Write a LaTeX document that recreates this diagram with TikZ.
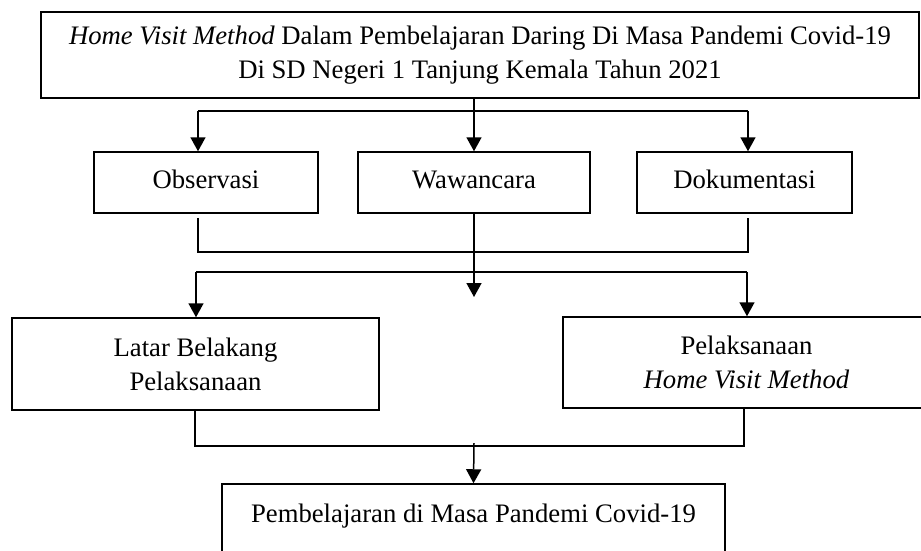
\documentclass[tikz,border=0pt]{standalone}
\usepackage{fontspec}
\setmainfont{Liberation Serif}
\usetikzlibrary{arrows.meta}
\begin{document}
\begin{tikzpicture}[x=1pt,y=-1pt,
  box/.style={draw=black, line width=1.5pt, rectangle, inner sep=0pt, align=center,
    font=\fontsize{26.7}{34}\selectfont},
  onebox/.style={box, text height=18pt, text depth=6pt, minimum height=61pt},
  conn/.style={draw=black, line width=1.5pt},
  arr/.style={conn, -{Triangle[length=14pt,width=15pt]}}]
\useasboundingbox (0,0) rectangle (921,550);
\clip (0,0) rectangle (921,550);
\node[box, minimum width=878pt, minimum height=86pt] (top) at (480,55)
  {\textit{Home Visit Method} Dalam Pembelajaran Daring Di Masa Pandemi Covid-19\\Di SD Negeri 1 Tanjung Kemala Tahun 2021};
\node[onebox, minimum width=224pt] (obs) at (206,182.5) {Observasi};
\node[onebox, minimum width=232pt] (waw) at (474,182.5) {Wawancara};
\node[onebox, minimum width=215pt] (dok) at (744.5,182.5) {Dokumentasi};
\node[box, minimum width=367pt, minimum height=92pt] (latar) at (195.5,364) {Latar Belakang\\Pelaksanaan};
\node[box, minimum width=367pt, minimum height=91pt] (pel) at (746.5,362.5) {Pelaksanaan\\\textit{Home Visit Method}};
\node[box, minimum width=503pt, minimum height=92pt] (bot) at (473.5,530) {Pembelajaran di Masa Pandemi Covid-19\\\mbox{}};
% level 1
\coordinate (a1) at (198,111);
\coordinate (a2) at (748,111);
\draw[arr] (waw.north |- top.south) -- (waw.north);
\draw[conn] (a1) -- (a2);
\draw[arr] (a1) -- (a1 |- obs.north);
\draw[arr] (a2) -- (a2 |- dok.north);
% level 2
\coordinate (c1) at (198,252);
\coordinate (c2) at (748,252);
\draw[conn] ([yshift=-4pt]obs.south -| c1) -- (c1) -- (c2) -- ([yshift=-4pt]dok.south -| c2);
\coordinate (mid) at (474,297);
\draw[arr] (waw.south) -- (mid);
\coordinate (d1) at (196,272);
\coordinate (d2) at (747,272);
\draw[conn] (d1) -- (d2);
\draw[arr] (d1) -- (d1 |- latar.north);
\draw[arr] (d2) -- (d2 |- pel.north);
% level 3
\coordinate (e1) at (195,446);
\coordinate (e2) at (744,446);
\draw[conn] (latar.south -| e1) -- (e1) -- (e2) -- (pel.south -| e2);
\coordinate (e0) at (474,443);
\draw[arr] (e0) -- (bot.north);
\end{tikzpicture}
\end{document}
